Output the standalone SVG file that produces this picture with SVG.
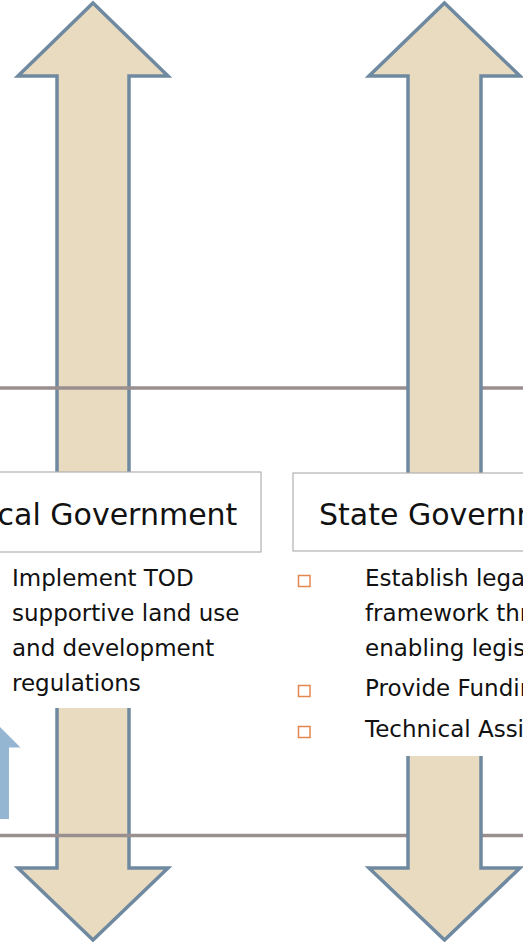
<svg xmlns="http://www.w3.org/2000/svg" width="523" height="942" viewBox="0 0 523 942">
  <style>
    .arrow { fill: #e9dbc0; stroke: #6f8aa0; stroke-width: 3.5; stroke-linejoin: miter; }
    .rule { stroke: #9a8f8f; stroke-width: 3.5; fill: none; }
    .box { fill: #ffffff; stroke: #b3b0b0; stroke-width: 1.2; }
    .pane { fill: #ffffff; stroke: none; }
    .head { font-family: "DejaVu Sans", sans-serif; font-size: 30px; fill: #111111; }
    .body { font-family: "DejaVu Sans", sans-serif; font-size: 23px; fill: #111111; }
    .bullet { fill: none; stroke: #e4874f; stroke-width: 1.5; }
    .hint { fill: #95b6d3; stroke: none; }
  </style>

  <!-- left double-headed arrow (sits under the horizontal rules) -->
  <g id="arrow-local">
    <polygon class="arrow" points="93,3 168,76 129,76 129,868 168,868 93,940 18,868 57,868 57,76 18,76"/>
  </g>

  <!-- horizontal rules -->
  <g id="connectors">
    <line class="rule" x1="0" y1="388" x2="523" y2="388"/>
    <line class="rule" x1="0" y1="835.5" x2="523" y2="835.5"/>
  </g>

  <!-- right double-headed arrow (sits over the rules) -->
  <g id="arrow-state">
    <polygon class="arrow" points="444.5,3 520,76 481,76 481,868 520,868 444.5,940 369,868 408,868 408,76 369,76"/>
  </g>

  <!-- small blue arrow at the left edge -->
  <g id="arrow-hint">
    <polygon class="hint" points="-40,687 20.5,747.5 9,747.5 9,819 -40,819"/>
  </g>

  <!-- local government panel -->
  <g id="local-government">
    <rect class="pane" x="-20" y="552" width="281" height="156"/>
    <rect class="box" x="-20" y="472" width="281" height="80"/>
    <text class="head" x="-37" y="525">Local Government</text>
    <text class="body" x="12" y="586">Implement TOD</text>
    <text class="body" x="12" y="621">supportive land use</text>
    <text class="body" x="12" y="656">and development</text>
    <text class="body" x="12" y="691">regulations</text>
  </g>

  <!-- state government panel -->
  <g id="state-government">
    <rect class="pane" x="293" y="551" width="250" height="205"/>
    <rect class="box" x="293" y="473" width="250" height="78"/>
    <text class="head" x="319" y="525">State Government</text>
    <rect class="bullet" x="298.5" y="575.5" width="11.5" height="11"/>
    <text class="body" x="365" y="586">Establish legal</text>
    <text class="body" x="365" y="621">framework through</text>
    <text class="body" x="365" y="656">enabling legislation</text>
    <rect class="bullet" x="298.5" y="685.5" width="11.5" height="11"/>
    <text class="body" x="365" y="696">Provide Funding</text>
    <rect class="bullet" x="298.5" y="726.5" width="11.5" height="11"/>
    <text class="body" x="365" y="737">Technical Assistance</text>
  </g>
</svg>
